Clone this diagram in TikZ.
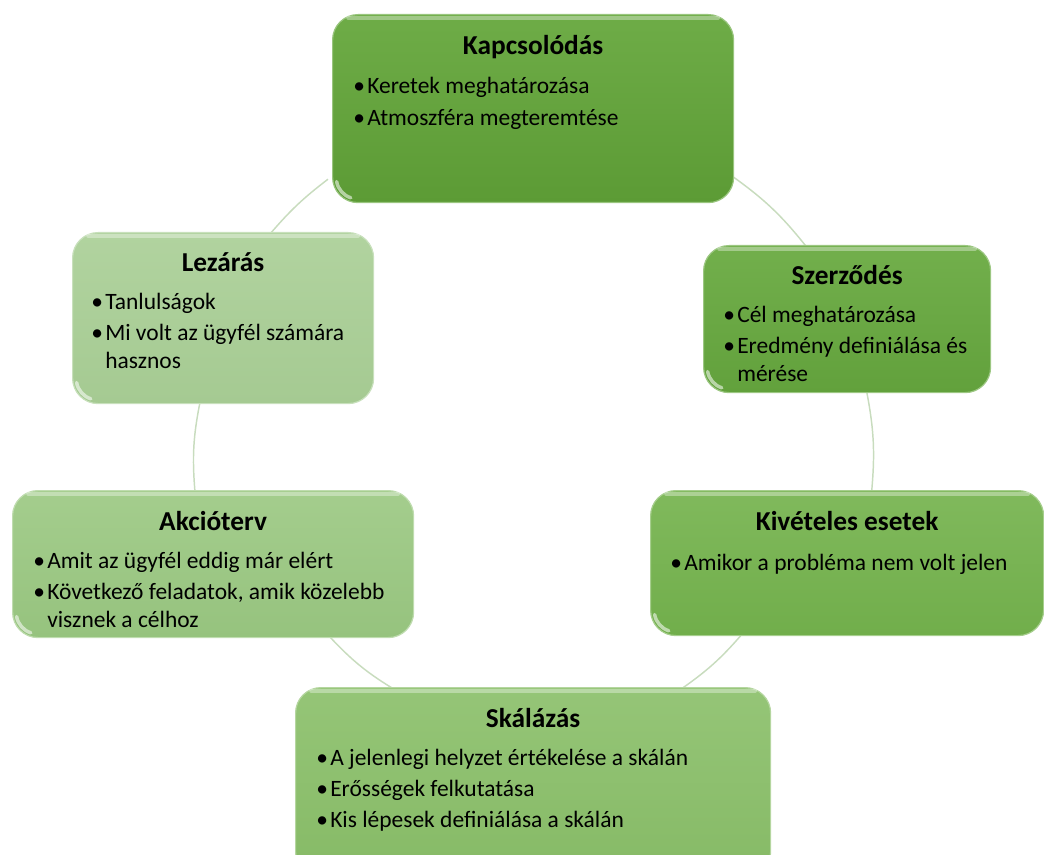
\documentclass[tikz,border=0pt]{standalone}
\usepackage{fontspec}
\setmainfont{Carlito}
\usetikzlibrary{calc}
\pgfdeclarelayer{bg}
\pgfsetlayers{bg,main}

% box fills, from the darkest stage to the lightest
\definecolor{kTop}{HTML}{6EAC47}\definecolor{kBot}{HTML}{5C9B35}
\definecolor{sTop}{HTML}{72AF4C}\definecolor{sBot}{HTML}{62A13C}
\definecolor{vTop}{HTML}{80B95C}\definecolor{vBot}{HTML}{71AE4B}
\definecolor{cTop}{HTML}{95C577}\definecolor{cBot}{HTML}{86BA66}
\definecolor{aTop}{HTML}{A4CD8D}\definecolor{aBot}{HTML}{96C37E}
\definecolor{lTop}{HTML}{B1D39F}\definecolor{lBot}{HTML}{A5CA92}
\definecolor{ring}{HTML}{C8DCBE}

% bullet item with hanging indent
\newcommand\li[1]{\par\hangindent=10.5pt\hangafter=1\noindent\makebox[10.5pt][l]{\textbullet}#1}
\newcommand\items[1]{\parbox[t]{400pt}{\parskip=2.4pt #1}}

% polished highlights on a stage box: top band and lower-left crescent
\newcommand\gloss[1]{%
  \draw[white, opacity=.35, line width=2.6pt, line cap=round]
    ($(#1.north west)+(16,-4)$) -- ($(#1.north east)+(-16,-4)$);
  \draw[white, opacity=.55, line width=2.6pt, line cap=round]
    ($(#1.south west)+(4.6,21.7)$) arc[start angle=190, end angle=252, radius=15.75pt];
}

\tikzset{
  x=0.75pt, y=0.75pt,
  stagebox/.style n args={4}{anchor=north west, rounded corners=19pt,
    minimum width=#1*0.75pt, minimum height=#2*0.75pt, inner sep=0pt,
    top color=#3, bottom color=#4, draw=#3!70!white, line width=0.9pt},
  stagetitle/.style={anchor=base, inner sep=0pt,
    font=\fontsize{20.5}{24}\selectfont\bfseries},
  stagelist/.style={anchor=base west, inner sep=0pt,
    font=\fontsize{17.6}{21}\selectfont},
  ringline/.style={draw=ring, line width=1.1pt},
}

\begin{document}
\begin{tikzpicture}
\useasboundingbox (0,0) rectangle (1044,-855);
\clip (0,0) rectangle (1044,-855);

% stages
\node[stagebox={401}{188}{kTop}{kBot}] (k) at (332,-14) {};
\gloss{k}
\node[stagetitle] (k-t) at ($(k.north)+(0,-41)$) {Kapcsolódás};
\node[stagelist] (k-l) at ($(k.north west)+(21,-80)$)
  {\items{\li{Keretek meghatározása}\li{Atmoszféra megteremtése}}};

\node[stagebox={287}{147}{sTop}{sBot}] (sz) at (703,-245) {};
\gloss{sz}
\node[stagetitle] (sz-t) at ($(sz.north)+(0,-40)$) {Szerződés};
\node[stagelist] (sz-l) at ($(sz.north west)+(20,-77)$)
  {\items{\li{Cél meghatározása}\li{Eredmény definiálása és\newline mérése}}};

\node[stagebox={393}{145}{vTop}{vBot}] (kv) at (650,-490) {};
\gloss{kv}
\node[stagetitle] (kv-t) at ($(kv.north)+(0,-40)$) {Kivételes esetek};
\node[stagelist] (kv-l) at ($(kv.north west)+(20,-80)$)
  {\items{\li{Amikor a probléma nem volt jelen}}};

\node[stagebox={475}{190}{cTop}{cBot}] (sk) at (295,-687) {};
\gloss{sk}
\node[stagetitle] (sk-t) at ($(sk.north)+(0,-40)$) {Skálázás};
\node[stagelist] (sk-l) at ($(sk.north west)+(21,-78)$)
  {\items{\li{A jelenlegi helyzet értékelése a skálán}\li{Erősségek felkutatása}\li{Kis lépesek definiálása a skálán}}};

\node[stagebox={401}{147}{aTop}{aBot}] (ak) at (12,-490) {};
\gloss{ak}
\node[stagetitle] (ak-t) at ($(ak.north)+(0,-40)$) {Akcióterv};
\node[stagelist] (ak-l) at ($(ak.north west)+(21,-78)$)
  {\items{\li{Amit az ügyfél eddig már elért}\li{Következő feladatok, amik közelebb\newline visznek a célhoz}}};

\node[stagebox={301}{171}{lTop}{lBot}] (lz) at (72,-232) {};
\gloss{lz}
\node[stagetitle] (lz-t) at ($(lz.north)+(0,-40)$) {Lezárás};
\node[stagelist] (lz-l) at ($(lz.north west)+(19,-77)$)
  {\items{\li{Tanlulságok}\li{Mi volt az ügyfél számára\newline hasznos}}};

% cycle connectors behind the stages
\begin{pgfonlayer}{bg}
\draw[ringline] ($(k.south east)+(-2,27)$) to[bend left=8] ($(sz.north)+(-40.5,-2)$);
\draw[ringline] ($(sz.south)+(19.5,2)$) to[bend left=8] ($(kv.north)+(24.5,-2)$);
\draw[ringline] ($(kv.south west)+(92,2)$) to[bend left=7] ($(sk.north east)+(-90,-2)$);
\draw[ringline] ($(sk.north west)+(102,-4)$) to[bend left=8] ($(ak.south east)+(-85,2)$);
\draw[ringline] ($(ak.north west)+(183,-2)$) to[bend left=8] ($(lz.south west)+(128,2)$);
\draw[ringline] ($(lz.north west)+(198,-2)$) to[bend left=6] ($(k.south west)+(-4,24)$);
\end{pgfonlayer}
\end{tikzpicture}
\end{document}
